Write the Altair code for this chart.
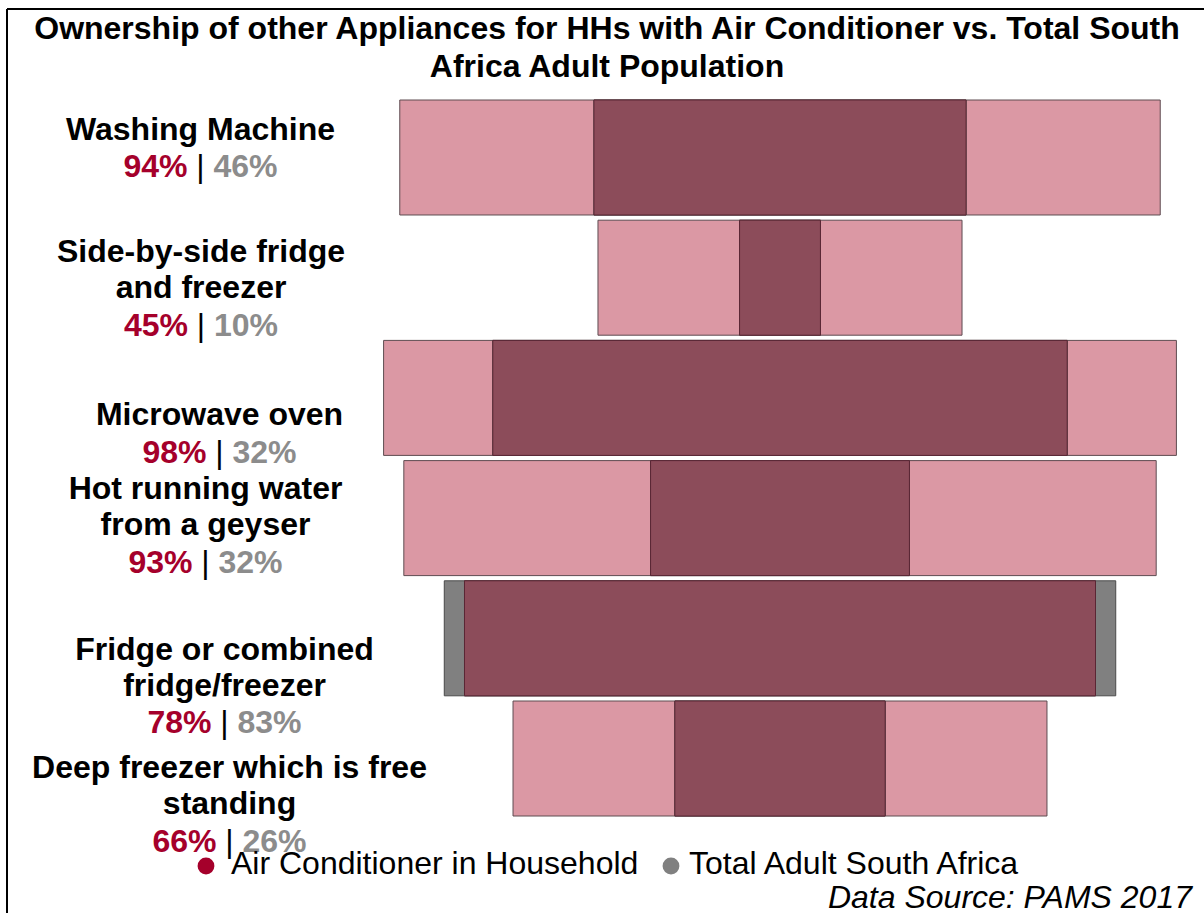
import altair as alt
import pandas as pd

# ---------------- data ----------------
categories = [
    "Washing Machine",
    "Side-by-side fridge and freezer",
    "Microwave oven",
    "Hot running water from a geyser",
    "Fridge or combined fridge/freezer",
    "Deep freezer which is free standing",
]
label_lines = [
    ["Washing Machine"],
    ["Side-by-side fridge", "and freezer"],
    ["Microwave oven"],
    ["Hot running water", "from a geyser"],
    ["Fridge or combined", "fridge/freezer"],
    ["Deep freezer which is free", "standing"],
]
ac_pct = [94, 45, 98, 93, 78, 66]            # Air Conditioner in Household (bar widths)
total_pct = [46, 10, 71, 32, 83, 26]         # Total Adult South Africa (bar widths as drawn)
ac_label = [94, 45, 98, 93, 78, 66]          # printed values
total_label = [46, 10, 32, 32, 83, 26]       # printed values

title_lines = ["Ownership of other Appliances for HHs with Air Conditioner vs. Total South",
               "Africa Adult Population"]
legend_names = ["Air Conditioner in Household", "Total Adult South Africa"]
source_text = "Data Source: PAMS 2017"

# ---------------- styling / layout ----------------
FONT = "Liberation Sans"
FS = 32
PINK = "#DB98A4"
DARK = "#8C4C5A"
GRAY = "#808080"
RED = "#A5002B"
GRAYTXT = "#8C8C8C"
OX, OY = 7, 9            # plot origin on the page
W, H = 1197, 904
XMIN, XMAX = -95.55, 52.41

label_cx = [200.5, 201, 219.5, 205.5, 224.5, 229.5]
label_base = [[140, 177], [262, 298, 336], [425, 463], [499, 535, 573],
              [660, 696, 733], [778, 814, 852]]

df = pd.DataFrame({"category": categories, "ac": ac_pct, "total": total_pct})

xscale = alt.Scale(domain=[XMIN, XMAX], nice=False, zero=False)
yscale = alt.Scale(domain=categories, range=[91, 807], paddingInner=0.0433, paddingOuter=0)

base = alt.Chart(df).transform_calculate(
    ac_lo="-datum.ac/2", ac_hi="datum.ac/2",
    tot_lo="-datum.total/2", tot_hi="datum.total/2",
    ov_lo="-min(datum.ac, datum.total)/2", ov_hi="min(datum.ac, datum.total)/2",
)
Y = alt.Y("category:N", sort=categories, scale=yscale, axis=None)

bar_ac = base.mark_bar(color=PINK, stroke="#5e4c51", strokeWidth=1).encode(
    x=alt.X("ac_lo:Q", scale=xscale, axis=None), x2="ac_hi:Q", y=Y)
bar_tot = base.mark_bar(color=GRAY, stroke="#4a4a4a", strokeWidth=1).encode(
    x=alt.X("tot_lo:Q", scale=xscale, axis=None), x2="tot_hi:Q", y=Y)
bar_ov = base.mark_bar(color=DARK, stroke="#5a2634", strokeWidth=1).encode(
    x=alt.X("ov_lo:Q", scale=xscale, axis=None), x2="ov_hi:Q", y=Y)


def txt(text, x, y, size=FS, weight="bold", color="black", align="center", style="normal"):
    return alt.Chart(pd.DataFrame({"t": [text]})).mark_text(
        font=FONT, fontSize=size, fontWeight=weight, color=color, align=align,
        baseline="alphabetic", fontStyle=style,
    ).encode(text="t:N", x=alt.value(x - OX), y=alt.value(y - OY))


layers = [bar_ac, bar_tot, bar_ov]

# title
layers.append(txt(title_lines[0], 607, 39))
layers.append(txt(title_lines[1], 607, 77))

# category labels with percentages
for i, lines in enumerate(label_lines):
    cx = label_cx[i]
    for j, line in enumerate(lines):
        layers.append(txt(line, cx, label_base[i][j]))
    by = label_base[i][-1]
    layers.append(txt(f"{ac_label[i]}%", cx - 13, by, color=RED, align="right"))
    layers.append(txt("|", cx, by, weight="normal", color="black"))
    layers.append(txt(f"{total_label[i]}%", cx + 13, by, color=GRAYTXT, align="left"))

# legend
for (name, col, cxp, tx) in [(legend_names[0], RED, 206, 231), (legend_names[1], GRAY, 671, 689)]:
    layers.append(alt.Chart(pd.DataFrame({"s": [name]})).mark_circle(
        color=col, opacity=1, size=283).encode(x=alt.value(cxp - OX), y=alt.value(866 - OY)))
    layers.append(txt(name, tx, 874, weight="normal", align="left"))

# source
layers.append(txt(source_text, 1192, 908, weight="normal", align="right", style="italic"))

# frame lines (top and left)
layers.append(alt.Chart(pd.DataFrame({"k": [0]})).mark_rule(color="black", strokeWidth=2).encode(
    x=alt.value(0), y=alt.value(0), y2=alt.value(H)))
layers.append(alt.Chart(pd.DataFrame({"k": [0]})).mark_rule(color="black", strokeWidth=2).encode(
    x=alt.value(0), x2=alt.value(W), y=alt.value(0)))

chart = alt.layer(*layers).properties(
    width=W, height=H,
    autosize=alt.AutoSizeParams(type="none"),
    padding={"left": OX, "top": OY, "right": 0, "bottom": 0},
    background="white",
).configure_view(strokeWidth=0)

chart.save("out.html", embed_options={"renderer": "svg", "actions": False})
